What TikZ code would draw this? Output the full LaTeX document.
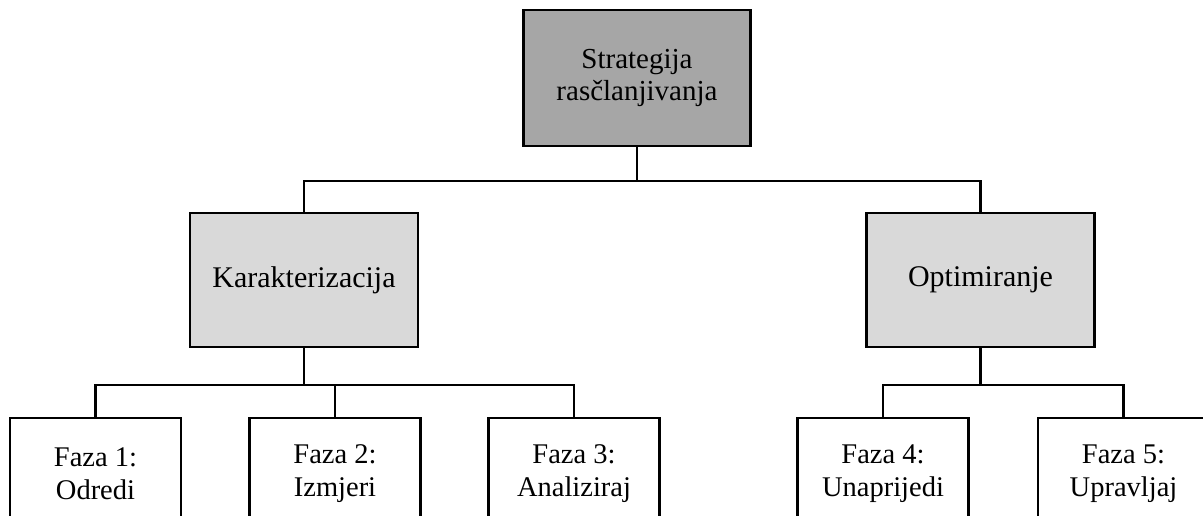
\documentclass[tikz,border=0pt]{standalone}
\usepackage{fontspec}
\setmainfont{Liberation Serif}
\definecolor{darkbox}{HTML}{A6A6A6}
\definecolor{midbox}{HTML}{D9D9D9}
\begin{document}
\begin{tikzpicture}[x=1pt,y=-1pt,
  box/.style={draw=black, line width=2.6pt, rectangle, align=center, inner sep=0pt},
  topbox/.style={box, fill=darkbox, minimum width=227pt, minimum height=136pt,
    font=\fontsize{29}{32}\selectfont},
  midbx/.style={box, fill=midbox, minimum width=228pt, minimum height=134pt,
    font=\fontsize{30}{33}\selectfont},
  leafbox/.style={box, fill=white, minimum width=171pt, minimum height=112pt,
    font=\fontsize{28.5}{33}\selectfont},
  conn/.style={line width=2.6pt, line cap=rect}]
\useasboundingbox (0,0) rectangle (1203,515);
\clip (0,0) rectangle (1203,515);
\node[topbox] (top) at (637,78) {Strategija\\rasčlanjivanja};
\node[midbx] (kar) at (304,280) {Karakterizacija};
\node[midbx] (opt) at (980.5,280) {Optimiranje};
\node[leafbox] (f1) at (95.5,474) {Faza 1:\\Odredi};
\node[leafbox] (f2) at (335,474) {Faza 2:\\Izmjeri};
\node[leafbox] (f3) at (574,474) {Faza 3:\\Analiziraj};
\node[leafbox] (f4) at (883,474) {Faza 4:\\Unaprijedi};
\node[leafbox] (f5) at (1123.5,474) {Faza 5:\\Upravljaj};
\coordinate (j1) at (637,181);
\coordinate (j2) at (304,385);
\coordinate (j3) at (980.5,385);
\draw[conn] (top.south) -- (j1);
\draw[conn] (kar.north) |- (j1) -| (opt.north);
\draw[conn] (kar.south) -- (j2);
\draw[conn] (f1.north) |- (j2) -| (f3.north);
\draw[conn] (f2.north) -- (f2.north |- j2);
\draw[conn] (opt.south) -- (j3);
\draw[conn] (f4.north) |- (j3) -| (f5.north);
\end{tikzpicture}
\end{document}
